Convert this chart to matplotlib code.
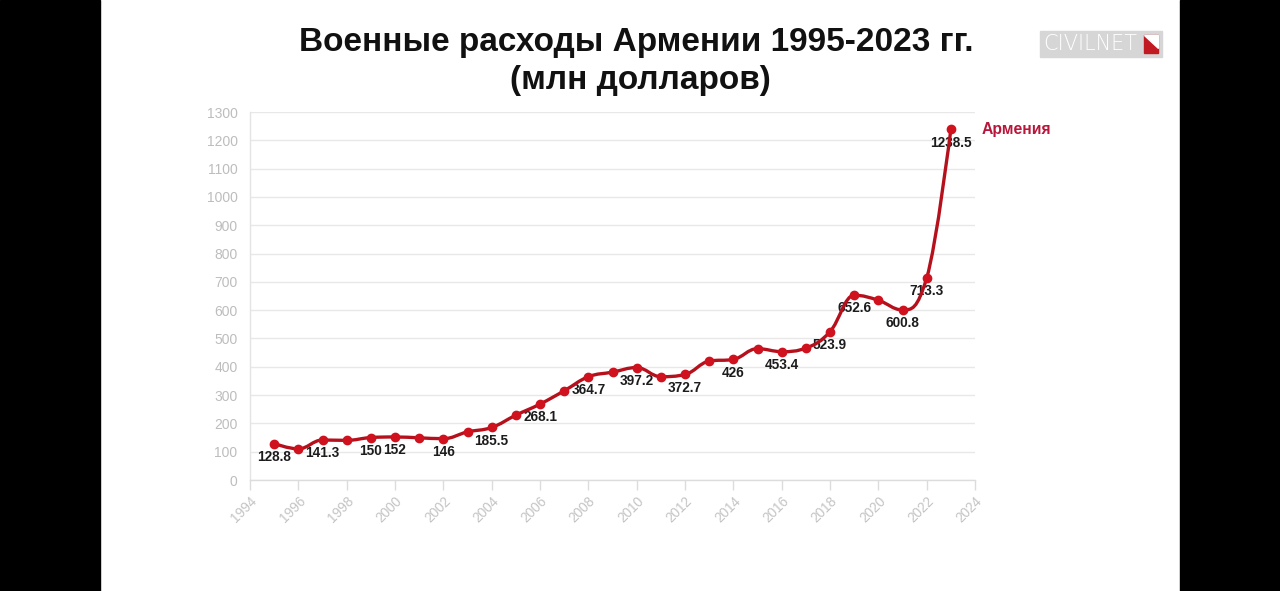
import numpy as np
import matplotlib
matplotlib.use("Agg")
import matplotlib.pyplot as plt
from matplotlib.path import Path
from matplotlib.patches import PathPatch, Rectangle, Polygon

# ---------------- data ----------------
years = [1995, 1996, 1997, 1998, 1999, 2000, 2001, 2002, 2003, 2004,
         2005, 2006, 2007, 2008, 2009, 2010, 2011, 2012, 2013, 2014,
         2015, 2016, 2017, 2018, 2019, 2020, 2021, 2022, 2023]
spending = [128.8, 110.0, 141.3, 140.0, 150.0, 152.0, 149.0, 146.0, 170.0, 185.5,
            229.0, 268.1, 315.0, 364.7, 381.0, 397.2, 365.0, 372.7, 420.0, 426.0,
            464.0, 453.4, 466.0, 523.9, 652.6, 635.0, 600.8, 713.3, 1238.5]
labeled_years = [1995, 1997, 1999, 2000, 2002, 2004, 2006, 2008, 2010, 2012,
                 2014, 2016, 2018, 2019, 2021, 2022, 2023]
label_texts = ["128.8", "141.3", "150", "152", "146", "185.5", "268.1", "364.7",
               "397.2", "372.7", "426", "453.4", "523.9", "652.6", "600.8",
               "713.3", "1238.5"]
y_ticks = list(range(0, 1301, 100))
x_ticks = list(range(1994, 2025, 2))
series_name = "Армения"
title_line1 = "Военные расходы Армении 1995-2023 гг."
title_line2 = "(млн долларов)"

FONT = ["Liberation Sans", "DejaVu Sans"]
plt.rcParams['font.family'] = FONT

W, H = 1280, 591
fig = plt.figure(figsize=(W / 100, H / 100), dpi=100)
fig.patch.set_facecolor("white")

# black side bars
fig.patches.append(Rectangle((0, 0), 100 / W, 1, transform=fig.transFigure,
                             color="black", zorder=0))
fig.patches.append(Rectangle((1180 / W, 0), 100 / W, 1, transform=fig.transFigure,
                             color="black", zorder=0))

ax_l, ax_r, ax_t, ax_b = 250, 975, 112, 480
ax = fig.add_axes([ax_l / W, 1 - ax_b / H, (ax_r - ax_l) / W, (ax_b - ax_t) / H])
ax.set_xlim(1994, 2024)
ax.set_ylim(0, 1300)

# grid & spines
ax.set_yticks(y_ticks)
ax.set_xticks(x_ticks)
ax.grid(axis="y", color="#e8e8e8", linewidth=1.0)
ax.set_axisbelow(True)
for s in ["top", "right"]:
    ax.spines[s].set_visible(False)
ax.spines["left"].set_color("#e4e4e4")
ax.spines["bottom"].set_color("#dcdcdc")
ax.spines["left"].set_linewidth(1.0)
ax.spines["bottom"].set_linewidth(1.0)
ax.tick_params(axis="y", length=0, pad=9, labelsize=10, labelcolor="#bdbdbd")
ax.tick_params(axis="x", length=7, width=1, color="#dcdcdc", pad=3,
               labelsize=9.8, labelcolor="#c4c4c4")
for lbl in ax.get_xticklabels():
    lbl.set_rotation(45)
    lbl.set_ha("right")
    lbl.set_va("top")
    lbl.set_rotation_mode("anchor")

# ---------------- spline (Highcharts-style) ----------------
xs = np.array(years, dtype=float)
ys = np.array(spending, dtype=float)
n = len(xs)
sm, den = 1.5, 2.5
lc = [None] * n
rc = [None] * n
for i in range(n):
    if i == 0 or i == n - 1:
        lc[i] = (xs[i], ys[i])
        rc[i] = (xs[i], ys[i])
        continue
    px, py = xs[i], ys[i]
    lx, ly = xs[i - 1], ys[i - 1]
    nx, ny = xs[i + 1], ys[i + 1]
    lcx = (sm * px + lx) / den
    lcy = (sm * py + ly) / den
    rcx = (sm * px + nx) / den
    rcy = (sm * py + ny) / den
    if rcx != lcx:
        corr = ((rcy - lcy) * (rcx - px)) / (rcx - lcx) + py - rcy
        lcy += corr
        rcy += corr
    if lcy > ly and lcy > py:
        lcy = max(ly, py)
        rcy = 2 * py - lcy
    elif lcy < ly and lcy < py:
        lcy = min(ly, py)
        rcy = 2 * py - lcy
    if rcy > ny and rcy > py:
        rcy = max(ny, py)
        lcy = 2 * py - rcy
    elif rcy < ny and rcy < py:
        rcy = min(ny, py)
        lcy = 2 * py - rcy
    lc[i] = (lcx, lcy)
    rc[i] = (rcx, rcy)

verts = [(xs[0], ys[0])]
codes = [Path.MOVETO]
for i in range(n - 1):
    verts += [rc[i], lc[i + 1], (xs[i + 1], ys[i + 1])]
    codes += [Path.CURVE4] * 3
line_color = "#b5111d"
ax.add_patch(PathPatch(Path(verts, codes), facecolor="none", edgecolor=line_color,
                       linewidth=2.4, zorder=4, capstyle="round", joinstyle="round"))
ax.plot(xs, ys, linestyle="none", marker="o", markersize=6,
        markerfacecolor="#d0121f", markeredgecolor="#d0121f", zorder=5)

# data labels (drawn below the line)
for yr, txt in zip(labeled_years, label_texts):
    v = spending[years.index(yr)]
    ax.annotate(txt, (yr, v), xytext=(0, -9.5), textcoords="offset points",
                ha="center", va="center", fontsize=9.8, fontweight="bold",
                color="#1c1c1c", zorder=3, annotation_clip=False)

# series name
ax.annotate(series_name, (years[-1], spending[-1]), xytext=(22, 0),
            textcoords="offset points", ha="left", va="center",
            fontsize=11.3, fontweight="bold", color="#b8163a", annotation_clip=False)

# title (two centred lines)
fig.text(636 / W, 1 - 42 / H, title_line1, ha="center", va="center",
         fontsize=24, fontweight="bold", color="#111111")
fig.text(640 / W, 1 - 80 / H, title_line2, ha="center", va="center",
         fontsize=24, fontweight="bold", color="#111111")

# logo
fig.patches.append(Rectangle((1040 / W, 1 - 57 / H), 122 / W, 26 / H,
                             transform=fig.transFigure, color="#d6d6d6", zorder=1))
fig.text(1043 / W, 1 - 44 / H, "CIVILNET", ha="left", va="center", fontsize=15,
         color="white", family=["DejaVu Sans"], fontweight="light", zorder=2)
fig.patches.append(Rectangle((1144 / W, 1 - 53 / H), 14 / W, 18 / H,
                             transform=fig.transFigure, color="#c21a22", zorder=2))
fig.patches.append(Polygon([(1144 / W, 1 - 35 / H), (1158 / W, 1 - 35 / H),
                            (1158 / W, 1 - 48 / H)], closed=True,
                           transform=fig.transFigure, color="white", zorder=3))

fig.savefig("out.png", dpi=100, facecolor="white")
